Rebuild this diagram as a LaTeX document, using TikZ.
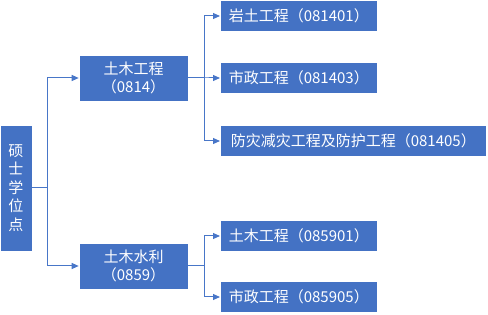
\documentclass[tikz,border=0pt]{standalone}
\usepackage{fontspec}
\setmainfont{Noto Sans CJK SC}
\usetikzlibrary{arrows.meta}
\definecolor{boxblue}{RGB}{68,114,196}
\definecolor{lineblue}{RGB}{72,118,200}
\tikzset{
  cnbox/.style={draw=white,line width=0.6pt,fill=boxblue,text=white,inner sep=0pt,
    align=center,font=\fontsize{15pt}{18.6pt}\selectfont},
  degbox/.style={cnbox,minimum width=32pt,minimum height=126pt},
  midbox/.style={cnbox,minimum width=109pt,minimum height=46pt},
  subbox/.style={cnbox,anchor=west,minimum width=157pt,minimum height=31pt},
  conn/.style={-{Triangle[length=7pt,width=6pt]},line width=1pt,draw=lineblue},
}
\begin{document}
\begin{tikzpicture}[x=1pt,y=-1pt]
  \useasboundingbox (0,0) rectangle (488,315);
  % degree node
  \node[degbox] (deg) at (16,188) {硕\\士\\学\\位\\点};
  % first-level disciplines
  \node[midbox] (m1) at (133.5,78) {土木工程\\（0814）};
  \node[midbox] (m2) at (133.5,266) {土木水利\\（0859）};
  % second-level directions
  \node[subbox] (r1) at (220,16) {岩土工程（081401）};
  \node[subbox] (r2) at (220,78) {市政工程（081403）};
  \node[subbox,minimum width=266pt] (r3) at (220,141) {防灾减灾工程及防护工程（081405）};
  \node[subbox] (r4) at (220,236) {土木工程（085901）};
  \node[subbox] (r5) at (220,297) {市政工程（085905）};
  % connectors
  \draw[conn] (deg.east) -- ++(15,0) |- (m1.west);
  \draw[conn] (deg.east) -- ++(15,0) |- (m2.west);
  \foreach \r in {r1,r2,r3}
    \draw[conn] (m1.east) -- ++(16,0) |- (\r.west);
  \foreach \r in {r4,r5}
    \draw[conn] (m2.east) -- ++(16,0) |- (\r.west);
\end{tikzpicture}
\end{document}
